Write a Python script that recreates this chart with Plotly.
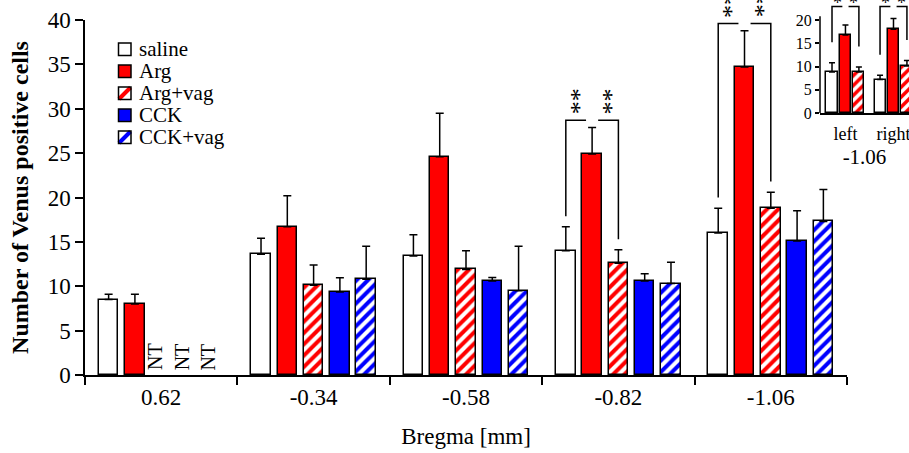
import plotly.graph_objects as go

# ---------------- data ----------------
groups = ['0.62', '-0.34', '-0.58', '-0.82', '-1.06']
series = ['saline', 'Arg', 'Arg+vag', 'CCK', 'CCK+vag']
saline_mean = [8.5, 13.6, 13.4, 14.0, 16.0]
saline_err = [0.6, 1.8, 2.4, 2.7, 2.8]
arg_mean = [8.0, 16.7, 24.6, 24.9, 34.7]
arg_err = [1.1, 3.5, 4.9, 3.0, 4.1]
argvag_mean = [None, 10.1, 11.9, 12.6, 18.8]
argvag_err = [None, 2.3, 2.1, 1.5, 1.8]
cck_mean = [None, 9.35, 10.6, 10.6, 15.1]
cck_err = [None, 1.6, 0.4, 0.8, 3.4]
cckvag_mean = [None, 10.8, 9.5, 10.3, 17.3]
cckvag_err = [None, 3.7, 5.0, 2.4, 3.6]
main_sig_groups = [3, 4]          # groups with ** brackets
main_sig_text = '**'

inset_sides = ['left', 'right']
inset_title = '-1.06'
inset_saline = [8.8, 7.2]
inset_saline_err = [2.0, 0.9]
inset_arg = [16.8, 18.0]
inset_arg_err = [2.1, 2.3]
inset_argvag = [8.8, 10.1]
inset_argvag_err = [1.1, 1.2]
inset_sig_text = '*'

means = [saline_mean, arg_mean, argvag_mean, cck_mean, cckvag_mean]
errs = [saline_err, arg_err, argvag_err, cck_err, cckvag_err]

# ---------------- styles ----------------
FONT = 'Liberation Serif'
RED = '#ff0000'
BLUE = '#0000ff'
styles = [
    dict(color='white'),
    dict(color=RED),
    dict(color='white', pattern=dict(shape='/', fgcolor=RED, bgcolor='white', size=8,
                                     solidity=0.5, fgopacity=1)),
    dict(color=BLUE),
    dict(color='white', pattern=dict(shape='/', fgcolor=BLUE, bgcolor='white', size=8,
                                     solidity=0.5, fgopacity=1)),
]

W, H = 909, 453
ML, MR, MT, MB = 85, 0, 0, 78
PW, PH = W - ML - MR, H - MT - MB


def px(x):
    return (x - ML) / PW


def py(y):
    return (H - MB - y) / PH


pitch = 0.1725
bw = 0.128
offsets = [(i - 2) * pitch for i in range(len(series))]

fig = go.Figure()

for s, name in enumerate(series):
    xs, ys, es = [], [], []
    for g in range(len(groups)):
        if means[s][g] is not None:
            xs.append(g + offsets[s])
            ys.append(means[s][g])
            es.append(errs[s][g])
    st = styles[s]
    marker = dict(color=st['color'], line=dict(color='black', width=1.5))
    if 'pattern' in st:
        marker['pattern'] = st['pattern']
    fig.add_trace(go.Bar(
        x=xs, y=ys, width=bw, name=name, marker=marker, showlegend=False,
        error_y=dict(type='data', symmetric=False, array=es, arrayminus=[0] * len(es),
                     color='black', thickness=1.5, width=4),
        xaxis='x', yaxis='y'))

# NT labels
for s in range(len(series)):
    for g in range(len(groups)):
        if means[s][g] is None:
            fig.add_annotation(x=g + offsets[s], y=0.3, xref='x', yref='y', text='NT',
                               textangle=-90, showarrow=False, yanchor='bottom', xshift=-6,
                               font=dict(family=FONT, size=20, color='black'))

# significance brackets, main chart
for g in main_sig_groups:
    x_s = g + offsets[0]
    x_a = g + offsets[1]
    x_v = g + offsets[2]
    top_s = saline_mean[g] + saline_err[g]
    top_a = arg_mean[g] + arg_err[g]
    top_v = argvag_mean[g] + argvag_err[g]
    hb = top_a + 0.8
    gap = 0.23 * pitch
    fig.add_shape(type='path', xref='x', yref='y',
                  path=f'M {x_s},{top_s + 1.2} L {x_s},{hb} L {x_a - gap},{hb}',
                  line=dict(color='black', width=1.5))
    fig.add_shape(type='path', xref='x', yref='y',
                  path=f'M {x_a + gap},{hb} L {x_v},{hb} L {x_v},{top_v + 1.2}',
                  line=dict(color='black', width=1.5))
    for cx in [(x_s + x_a - gap) / 2, (x_a + gap + x_v) / 2]:
        # two asterisks stacked vertically: the pair is written once and turned upright
        fig.add_annotation(x=cx, y=hb, xref='x', yref='y', text=main_sig_text,
                           textangle=-90, showarrow=False, yanchor='bottom',
                           yshift=4, xshift=3,
                           font=dict(family=FONT, size=26, color='black'))

# ---------------- inset ----------------
ipitch = 0.28
ibw = 0.23
ioff = [-ipitch, 0, ipitch]
inset_means = [inset_saline, inset_arg, inset_argvag]
inset_errs = [inset_saline_err, inset_arg_err, inset_argvag_err]
for s in range(3):
    st = styles[s]
    marker = dict(color=st['color'], line=dict(color='black', width=1.5))
    if 'pattern' in st:
        marker['pattern'] = dict(st['pattern'], size=7)
    xs = [i + ioff[s] for i in range(len(inset_sides))]
    fig.add_trace(go.Bar(
        x=xs, y=inset_means[s], width=ibw, marker=marker, showlegend=False,
        error_y=dict(type='data', symmetric=False, array=inset_errs[s],
                     arrayminus=[0] * len(xs), color='black', thickness=1.5, width=3),
        xaxis='x2', yaxis='y2'))

ihb = max(inset_arg[i] + inset_arg_err[i] for i in range(len(inset_sides))) + 2.6
for i in range(len(inset_sides)):
    x_s, x_a, x_v = i + ioff[0], i + ioff[1], i + ioff[2]
    top_s = inset_saline[i] + inset_saline_err[i]
    top_v = inset_argvag[i] + inset_argvag_err[i]
    gap = 0.23 * ipitch
    fig.add_shape(type='path', xref='x2', yref='y2',
                  path=f'M {x_s},{top_s + 4.4} L {x_s},{ihb} L {x_a - gap},{ihb}',
                  line=dict(color='black', width=1.5))
    fig.add_shape(type='path', xref='x2', yref='y2',
                  path=f'M {x_a + gap},{ihb} L {x_v},{ihb} L {x_v},{top_v + 4.4}',
                  line=dict(color='black', width=1.5))
    for cx in [(x_s + x_a - gap) / 2, (x_a + gap + x_v) / 2]:
        fig.add_annotation(x=cx, y=ihb, xref='x2', yref='y2', text=inset_sig_text,
                           showarrow=False, yanchor='bottom', yshift=-8,
                           font=dict(family=FONT, size=18, color='black'))

# inset y axis line (only up to just above 20)
fig.add_shape(type='line', xref='x2 domain', yref='y2', x0=0, x1=0, y0=0, y1=20.8,
              line=dict(color='black', width=1.5))

# ---------------- manual legend ----------------
leg_y = [49, 71, 93, 115, 137]
for s, name in enumerate(series):
    yc = leg_y[s]
    st = styles[s]
    fill = st['color']
    fig.add_shape(type='rect', xref='paper', yref='paper',
                  x0=px(118.5), x1=px(131), y0=py(yc + 6.5), y1=py(yc - 6),
                  fillcolor=fill, line=dict(width=0))
    if 'pattern' in st:
        fig.add_shape(type='line', xref='paper', yref='paper',
                      x0=px(119), y0=py(yc + 6), x1=px(130.5), y1=py(yc - 5.5),
                      line=dict(color=st['pattern']['fgcolor'], width=4))
    fig.add_shape(type='rect', xref='paper', yref='paper',
                  x0=px(118.5), x1=px(131), y0=py(yc + 6.5), y1=py(yc - 6),
                  fillcolor='rgba(0,0,0,0)', line=dict(color='black', width=1.5))
    fig.add_annotation(x=px(137), y=py(yc), xref='paper', yref='paper', text=name,
                       showarrow=False, xanchor='left', yanchor='middle',
                       font=dict(family=FONT, size=21, color='black'))

# ---------------- layout ----------------
fig.update_layout(
    width=W, height=H,
    margin=dict(l=ML, r=MR, t=MT, b=MB, pad=0, autoexpand=False),
    paper_bgcolor='white', plot_bgcolor='white',
    barmode='overlay', bargap=0,
    showlegend=False,
    font=dict(family=FONT, color='black'),
    xaxis=dict(domain=[0, px(847)], range=[-0.5, len(groups) - 0.5], automargin=False,
               tickmode='array', tickvals=list(range(len(groups))), ticktext=groups,
               ticks='', ticklabelstandoff=1,
               tickfont=dict(family=FONT, size=23, color='black'),
               minor=dict(tickmode='array',
                          tickvals=[g - 0.5 for g in range(len(groups) + 1)],
                          ticks='outside', ticklen=8, tickwidth=1.5, tickcolor='black',
                          showgrid=False),
               showline=True, linecolor='black', linewidth=1.5,
               showgrid=False, zeroline=False,
               title=dict(text='Bregma [mm]', standoff=19,
                          font=dict(family=FONT, size=23, color='black'))),
    yaxis=dict(domain=[0, py(20)], range=[0, 40], automargin=False,
               tickmode='array', tickvals=list(range(0, 41, 5)),
               ticks='outside', ticklen=8, tickwidth=1.5, tickcolor='black',
               tickfont=dict(family=FONT, size=23, color='black'),
               showline=True, linecolor='black', linewidth=1.5,
               showgrid=False, zeroline=False,
               title=dict(text='<b>Number of Venus positive cells</b>', standoff=12,
                          font=dict(family=FONT, size=24, color='black'))),
    xaxis2=dict(domain=[px(820), 1], anchor='y2', range=[-0.53, 1.323], automargin=False,
                tickmode='array', tickvals=list(range(len(inset_sides))), ticktext=inset_sides,
                ticks='', ticklabelstandoff=4, ticklabeloverflow='allow',
                tickfont=dict(family=FONT, size=18, color='black'),
                showline=True, linecolor='black', linewidth=1.5,
                showgrid=False, zeroline=False,
                title=dict(text=inset_title, standoff=6,
                           font=dict(family=FONT, size=21, color='black'))),
    yaxis2=dict(domain=[py(113), 1], anchor='x2', range=[0, 24.3], automargin=False,
                tickmode='array', tickvals=list(range(0, 21, 5)),
                ticks='outside', ticklen=4, tickwidth=1.5, tickcolor='black',
                tickfont=dict(family=FONT, size=16, color='black'),
                showline=False, showgrid=False, zeroline=False),
)

fig.write_html('out.html', config={'displayModeBar': False},
               post_script="document.body.style.margin='0';document.body.style.padding='0';")
